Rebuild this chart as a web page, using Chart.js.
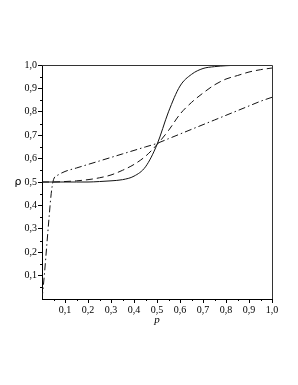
<!DOCTYPE html>
<html>
<head>
<meta charset="utf-8">
<script src="https://cdn.jsdelivr.net/npm/chart.js@4/dist/chart.umd.min.js"></script>
<style>
  html, body { margin: 0; padding: 0; background: #fff; }
  #wrap { width: 298px; height: 385px; }
</style>
</head>
<body>
<div id="wrap"><canvas id="rhoChart" width="298" height="385"></canvas></div>
<script>
// sample points along p
const pValues = [0, 0.05, 0.1, 0.15, 0.2, 0.25, 0.3, 0.35, 0.4, 0.45, 0.5,
                 0.55, 0.6, 0.65, 0.7, 0.75, 0.8, 0.85, 0.9, 0.95, 1.0];
const solidRho = [0.5, 0.5, 0.5, 0.5, 0.5, 0.502, 0.505, 0.51, 0.525, 0.565, 0.66,
                  0.8, 0.91, 0.96, 0.985, 0.993, 0.997, 0.999, 1.0, 1.0, 1.0];
const dashedRho = [0.5, 0.5, 0.502, 0.505, 0.51, 0.518, 0.53, 0.55, 0.575, 0.61, 0.66,
                   0.72, 0.79, 0.84, 0.88, 0.915, 0.94, 0.955, 0.97, 0.98, 0.987];
// dash-dot curve needs finer points near p = 0
const dashDotP = [0, 0.01, 0.02, 0.03, 0.04, 0.05, 0.07, 0.1, 0.15, 0.2, 0.25, 0.3, 0.35,
                  0.4, 0.45, 0.5, 0.55, 0.6, 0.65, 0.7, 0.75, 0.8, 0.85, 0.9, 0.95, 1.0];
const dashDotRho = [0, 0.1, 0.22, 0.34, 0.45, 0.51, 0.53, 0.545, 0.56, 0.575, 0.59, 0.605, 0.62,
                    0.635, 0.65, 0.665, 0.685, 0.705, 0.725, 0.745, 0.765, 0.785, 0.805, 0.825, 0.845, 0.862];
const minorTicks = [0.05, 0.15, 0.25, 0.35, 0.45, 0.55, 0.65, 0.75, 0.85, 0.95];

const toPoints = (xs, ys) => xs.map((x, i) => ({ x: x, y: ys[i] }));
const commaLabel = v => Number(v).toFixed(1).replace(".", ",");
const dropZero = scale => { scale.ticks = scale.ticks.filter(t => t.value > 0.001); };

// box on top/right, minor ticks, axis titles
const framePlugin = {
    id: "frame",
    afterDraw(chart) {
        const c = chart.ctx;
        const a = chart.chartArea;
        const xs = chart.scales.x, ys = chart.scales.y;
        c.save();
        c.strokeStyle = "#333";
        c.lineWidth = 1;
        c.beginPath();
        c.moveTo(a.left, a.top + 0.5);
        c.lineTo(a.right + 0.5, a.top + 0.5);
        c.lineTo(a.right + 0.5, a.bottom);
        c.stroke();

        c.strokeStyle = "#000";
        c.beginPath();
        minorTicks.forEach(v => {
            const px = Math.round(xs.getPixelForValue(v)) + 0.5;
            c.moveTo(px, a.bottom);
            c.lineTo(px, a.bottom + 2);
            const py = Math.round(ys.getPixelForValue(v)) + 0.5;
            c.moveTo(a.left, py);
            c.lineTo(a.left - 2, py);
        });
        c.stroke();

        c.fillStyle = "#000";
        c.textAlign = "center";
        c.textBaseline = "middle";
        c.font = "11px 'DejaVu Sans'";
        c.fillText("ρ", 18, ys.getPixelForValue(0.5));
        c.font = "italic 11px 'Liberation Serif'";
        c.fillText("p", xs.getPixelForValue(0.5), 320);
        c.restore();
    }
};

const ctx = document.getElementById("rhoChart").getContext("2d");
const chart = new Chart(ctx, {
    type: "scatter",
    data: {
        datasets: [
            { data: toPoints(pValues, solidRho), borderColor: "#111", borderWidth: 1 },
            { data: toPoints(pValues, dashedRho), borderColor: "#111", borderWidth: 1, borderDash: [7, 4] },
            { data: toPoints(dashDotP, dashDotRho), borderColor: "#111", borderWidth: 1, borderDash: [7, 3, 1.5, 3] }
        ]
    },
    options: {
        responsive: false,
        animation: false,
        showLine: true,
        elements: {
            point: { radius: 0 },
            line: { cubicInterpolationMode: "monotone", fill: false }
        },
        layout: { padding: { top: 65, right: 26, left: 0, bottom: 0 } },
        plugins: { legend: { display: false }, tooltip: { enabled: false } },
        scales: {
            x: {
                type: "linear", min: 0, max: 1,
                afterBuildTicks: dropZero,
                afterFit: s => { s.height = 86; },
                border: { display: true, color: "#000", width: 1 },
                grid: { drawOnChartArea: false, color: "#000", tickLength: 4 },
                ticks: {
                    stepSize: 0.1, maxRotation: 0, autoSkip: false, padding: 1,
                    color: "#000", font: { family: "'Liberation Serif', serif", size: 10 },
                    callback: commaLabel
                }
            },
            y: {
                type: "linear", min: 0, max: 1,
                afterBuildTicks: dropZero,
                afterFit: s => { s.width = 42; },
                border: { display: true, color: "#000", width: 1 },
                grid: { drawOnChartArea: false, color: "#000", tickLength: 4 },
                ticks: {
                    stepSize: 0.1, autoSkip: false, padding: 1,
                    color: "#000", font: { family: "'Liberation Serif', serif", size: 10 },
                    callback: commaLabel
                }
            }
        }
    },
    plugins: [framePlugin]
});
</script>
</body>
</html>
